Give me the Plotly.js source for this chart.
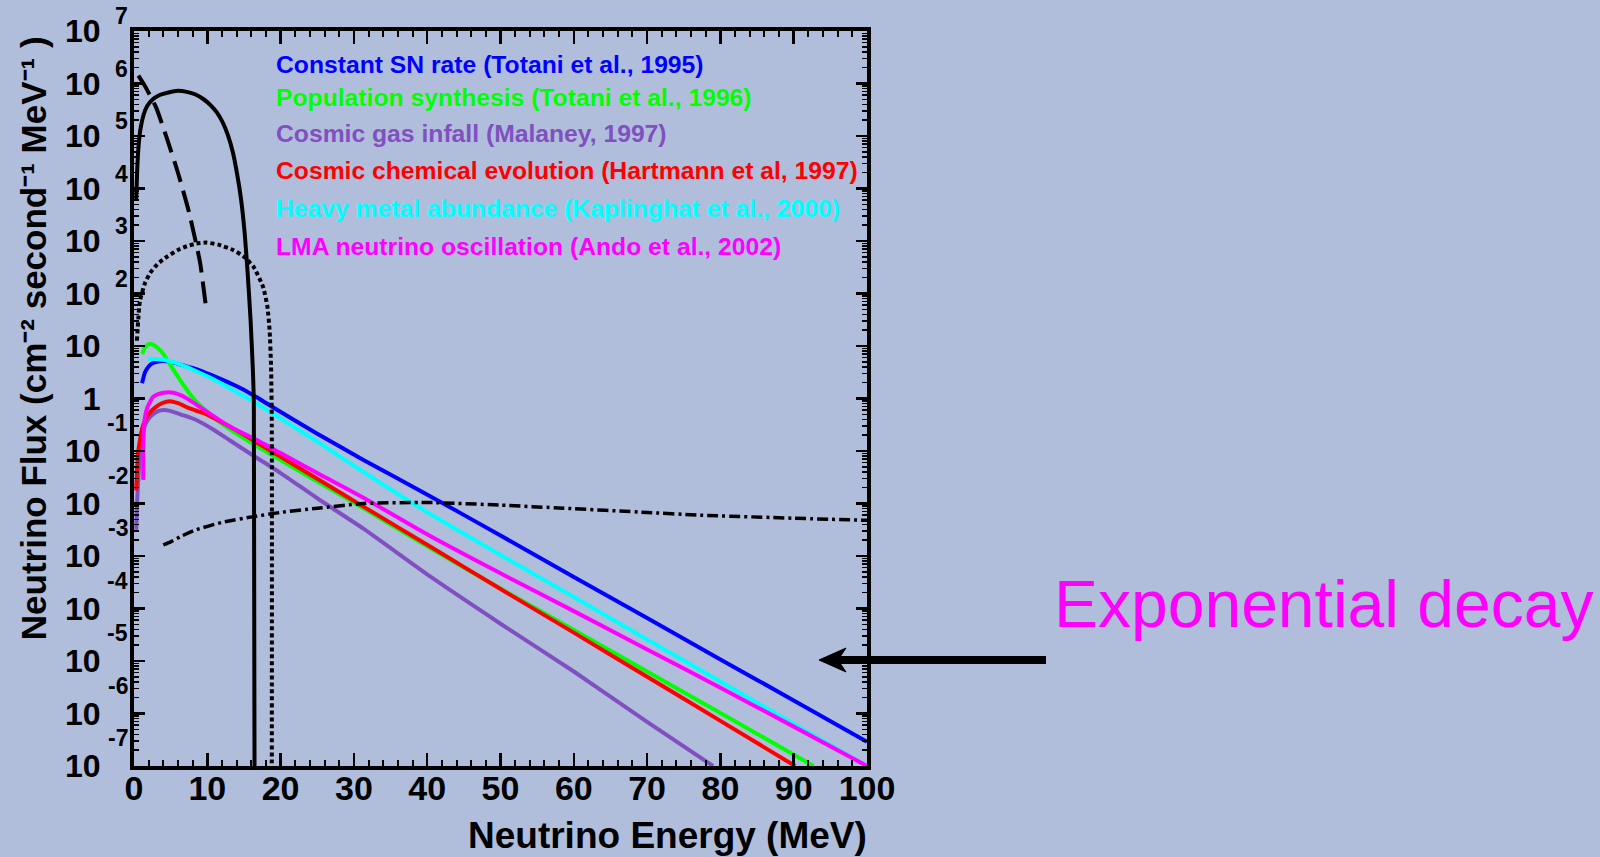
<!DOCTYPE html>
<html>
<head>
<meta charset="utf-8">
<script src="https://cdn.plot.ly/plotly-3.0.1.min.js"></script>
<style>
  html, body { margin: 0; padding: 0; background: #b0bedc; }
  #chart { width: 1600px; height: 857px; }
</style>
</head>
<body>
<div id="chart"></div>
<script>
// ---- Data (energy in MeV, flux given as log10 of cm^-2 s^-1 MeV^-1) ----
const constSN_E   = [1.1, 1.5, 2, 2.5, 3.5, 5, 6.5, 8.5, 10.5, 12.5, 14.5, 16.3, 19, 25, 31.3, 40.4, 50, 60, 70, 80, 90, 100];
const constSN_log = [0.29, 0.50, 0.61, 0.67, 0.71, 0.70, 0.64, 0.56, 0.45, 0.33, 0.20, 0.06, -0.17, -0.67, -1.17, -1.86, -2.61, -3.40, -4.18, -4.97, -5.75, -6.54];

const popSyn_E   = [1.1, 1.5, 1.9, 2.3, 2.8, 3.4, 4, 5, 6.3, 7.4, 8.5, 10.8, 13, 16.3, 19, 25, 31.3, 40.4, 50, 60, 70, 80, 92.7];
const popSyn_log = [0.85, 0.97, 1.03, 1.04, 1.01, 0.94, 0.85, 0.63, 0.35, 0.13, -0.06, -0.35, -0.58, -0.87, -1.09, -1.58, -2.09, -2.85, -3.62, -4.41, -5.20, -5.99, -7.0];

const gasInfall_E   = [0.3, 0.45, 0.6, 0.8, 1.0, 1.3, 1.7, 2.2, 3, 4, 5, 6.5, 8.5, 10.8, 13.1, 16.3, 20, 25, 31.3, 40.4, 50, 60, 70, 79];
const gasInfall_log = [-2.5, -1.9, -1.5, -1.1, -0.85, -0.6, -0.45, -0.35, -0.26, -0.22, -0.24, -0.31, -0.41, -0.59, -0.80, -1.09, -1.42, -1.90, -2.48, -3.39, -4.29, -5.20, -6.16, -7.0];

const chemEvol_E   = [0.3, 0.4, 0.55, 0.8, 1.1, 1.5, 2.2, 3, 3.8, 4.9, 6, 7.6, 9.5, 11, 13, 16.3, 20, 25, 31.3, 40.4, 50, 60, 70, 80, 90.2];
const chemEvol_log = [-1.75, -1.4, -1.05, -0.8, -0.58, -0.42, -0.26, -0.16, -0.09, -0.05, -0.09, -0.19, -0.28, -0.38, -0.53, -0.80, -1.11, -1.53, -2.06, -2.82, -3.63, -4.46, -5.30, -6.14, -7.0];

const heavyMetal_E   = [1.9, 2.5, 3.2, 4, 5, 6.5, 8.5, 10.5, 12.5, 14.5, 16.3, 20, 25, 31.3, 40.4, 50, 60, 70, 80, 90, 100];
const heavyMetal_log = [0.75, 0.75, 0.75, 0.74, 0.71, 0.64, 0.52, 0.39, 0.24, 0.08, -0.06, -0.38, -0.82, -1.40, -2.20, -2.98, -3.78, -4.59, -5.39, -6.20, -7.0];

const lma_E   = [1.25, 1.27, 1.35, 1.5, 1.8, 2.2, 2.6, 3.2, 4, 5.4, 7, 8.55, 10.8, 13.1, 16.3, 20, 25, 31.3, 40.4, 50, 60, 70, 80, 90, 100];
const lma_log = [-1.55, -1.0, -0.6, -0.35, -0.18, -0.06, 0.03, 0.08, 0.11, 0.11, 0.02, -0.12, -0.33, -0.54, -0.76, -1.04, -1.42, -1.89, -2.62, -3.33, -4.05, -4.78, -5.51, -6.25, -7.0];

// black curves
const solid_E   = [0.3, 0.45, 0.65, 0.9, 1.3, 1.8, 2.5, 3.5, 4.7, 6.0, 7.2, 8.4, 9.5, 10.5, 11.3, 12.1, 12.8, 13.5, 14.1, 14.6, 15.1, 15.5, 15.9, 16.2, 16.35, 16.45];
const solid_log = [3.8, 4.4, 4.85, 5.15, 5.4, 5.57, 5.69, 5.78, 5.83, 5.86, 5.84, 5.79, 5.70, 5.58, 5.45, 5.26, 5.02, 4.68, 4.25, 3.8, 3.15, 2.4, 1.5, 0.6, -0.1, -7.5];

const dashed_E   = [0.6, 1.5, 3, 4.5, 6, 7.5, 9, 9.9];
const dashed_log = [6.15, 5.95, 5.55, 4.95, 4.3, 3.55, 2.6, 1.65];

const dotted_E   = [0.4, 0.8, 1.5, 2.2, 3.2, 4.5, 6, 7.2, 8.5, 9.9, 11.5, 13.5, 15, 16.3, 17.6, 18.2, 18.5, 18.7, 18.8, 18.8];
const dotted_log = [1.1, 1.85, 2.2, 2.39, 2.56, 2.7, 2.83, 2.9, 2.95, 2.97, 2.93, 2.83, 2.7, 2.51, 2.13, 1.75, 1.3, 0.6, -0.5, -7.5];

const dashdot_E   = [4.0, 5, 6.5, 8.5, 12, 16.3, 20, 25, 31.3, 40, 50, 58.6, 70, 76.8, 90, 100];
const dashdot_log = [-2.79, -2.73, -2.62, -2.5, -2.36, -2.25, -2.17, -2.09, -2.0, -1.98, -2.03, -2.09, -2.17, -2.22, -2.28, -2.32];

// labels
const seriesLabels = [
  'Constant SN rate (Totani et al., 1995)',
  'Population synthesis (Totani et al., 1996)',
  'Cosmic gas infall (Malaney, 1997)',
  'Cosmic chemical evolution (Hartmann et al, 1997)',
  'Heavy metal abundance (Kaplinghat et al., 2000)',
  'LMA neutrino oscillation (Ando et al., 2002)'
];
const seriesColors = ['#0000ff', '#00ff00', '#8050c0', '#ff0000', '#00ffff', '#ff00ff'];
const yTickExps = [-7, -6, -5, -4, -3, -2, -1, 0, 1, 2, 3, 4, 5, 6, 7];
const xTickVals = [0, 10, 20, 30, 40, 50, 60, 70, 80, 90, 100];
const yTitleText = 'Neutrino Flux (cm\u207B\u00B2 second\u207B\u00B9 MeV\u207B\u00B9 )';
const xTitleText = 'Neutrino Energy (MeV)';
const noteText = 'Exponential decay';

// ---- build ----
const toFlux = arr => arr.map(v => Math.pow(10, v));
const FONT = 'Liberation Sans, Arial, Helvetica, sans-serif';

function colored(E, L, i) {
  return { x: E, y: toFlux(L), type: 'scatter', mode: 'lines', name: seriesLabels[i],
    line: { color: seriesColors[i], width: 4, shape: 'spline', smoothing: 0.6 }, hoverinfo: 'skip' };
}
function black(E, L, dash, width) {
  return { x: E, y: toFlux(L), type: 'scatter', mode: 'lines', showlegend: false,
    line: { color: '#000000', width: width, dash: dash, shape: 'spline', smoothing: 0.5 }, hoverinfo: 'skip' };
}

const traces = [
  colored(constSN_E, constSN_log, 0),
  colored(popSyn_E, popSyn_log, 1),
  colored(gasInfall_E, gasInfall_log, 2),
  colored(chemEvol_E, chemEvol_log, 3),
  colored(heavyMetal_E, heavyMetal_log, 4),
  colored(lma_E, lma_log, 5),
  black(solid_E, solid_log, 'solid', 4),
  black(dashed_E, dashed_log, '22px,9px', 4),
  black(dotted_E, dotted_log, '4px,3px', 4),
  black(dashdot_E, dashdot_log, '11px,4px,3px,4px', 3.5)
];

// mantissa part of the y tick labels; exponents are drawn as raised text beside them
const yLabel = e => (e === 0 ? '1' : '10');

const legendY = [0.955, 0.909, 0.860, 0.810, 0.758, 0.707];
const annotations = seriesLabels.map((t, i) => ({
  xref: 'paper', yref: 'paper', x: 0.1905, y: legendY[i], xanchor: 'left', yanchor: 'middle',
  text: t, showarrow: false,
  font: { family: FONT, size: 24.7, color: seriesColors[i], weight: 'bold' }
}));
yTickExps.filter(e => e !== 0 && e !== 1).forEach(e => {
  annotations.push({
    xref: 'paper', yref: 'y', x: -0.0055, y: e, xanchor: 'right', yanchor: 'middle',
    yshift: e > 0 ? 15 : 28,
    text: e > 0 ? String(e) : '-' + (-e), showarrow: false,
    font: { family: FONT, size: 23, color: '#000000', weight: 'bold' }
  });
});
annotations.push({
  xref: 'paper', yref: 'paper', x: 1.0027, y: -0.094, xanchor: 'right', yanchor: 'middle',
  text: xTitleText, showarrow: false,
  font: { family: FONT, size: 37, color: '#000000', weight: 'bold' }
});
annotations.push({
  xref: 'paper', yref: 'paper', x: -0.1378, y: 0.582, xanchor: 'center', yanchor: 'middle',
  text: yTitleText, textangle: -90, showarrow: false,
  font: { family: FONT, size: 35, color: '#000000', weight: 'bold' }
});
annotations.push({
  xref: 'paper', yref: 'paper', x: 1.252, y: 0.220, xanchor: 'left', yanchor: 'middle',
  text: noteText, showarrow: false,
  font: { family: FONT, size: 66, color: '#ff00ff' }
});

// arrow pointing at the plot (shaft + swept head), positioned in paper units
const shapes = [
  { type: 'line', xref: 'paper', yref: 'paper', x0: 0.9577, y0: 0.14422, x1: 1.2442, y1: 0.14422,
    line: { color: '#000000', width: 8 } },
  { type: 'path', xref: 'paper', yref: 'paper',
    path: 'M 0.93452 0.14422 L 0.97135 0.16054 L 0.96044 0.14422 L 0.97135 0.12789 Z',
    fillcolor: '#000000', line: { color: '#000000', width: 1 } }
];

const layout = {
  width: 1600, height: 857,
  margin: { l: 134, r: 733, t: 31, b: 91 },
  paper_bgcolor: '#b0bedc', plot_bgcolor: '#b0bedc',
  showlegend: false,
  xaxis: {
    range: [0, 100], tickvals: xTickVals, ticktext: xTickVals.map(String),
    showgrid: false, zeroline: false, showline: true, linecolor: '#000', linewidth: 4, mirror: 'ticks',
    ticks: 'inside', ticklen: 13, tickwidth: 2.5, tickcolor: '#000',
    minor: { dtick: 2, tick0: 0, ticks: 'inside', ticklen: 6, tickwidth: 2, tickcolor: '#000', showgrid: false },
    tickfont: { family: FONT, size: 34, color: '#000', weight: 'bold' },
    ticklabelstandoff: -11
  },
  yaxis: {
    type: 'log', range: [-7, 7],
    tickvals: yTickExps.map(e => Math.pow(10, e)), ticktext: yTickExps.map(yLabel),
    showgrid: false, zeroline: false, showline: true, linecolor: '#000', linewidth: 4, mirror: 'ticks',
    ticks: 'inside', ticklen: 11, tickwidth: 2.5, tickcolor: '#000',
    minor: { dtick: 'D1', ticks: 'inside', ticklen: 5, tickwidth: 1.5, tickcolor: '#000', showgrid: false },
    tickfont: { family: FONT, size: 32, color: '#000', weight: 'bold' },
    ticklabelstandoff: 23
  },
  shapes: shapes,
  annotations: annotations
};

Plotly.newPlot('chart', traces, layout, { displayModeBar: false, staticPlot: true });
</script>
</body>
</html>
